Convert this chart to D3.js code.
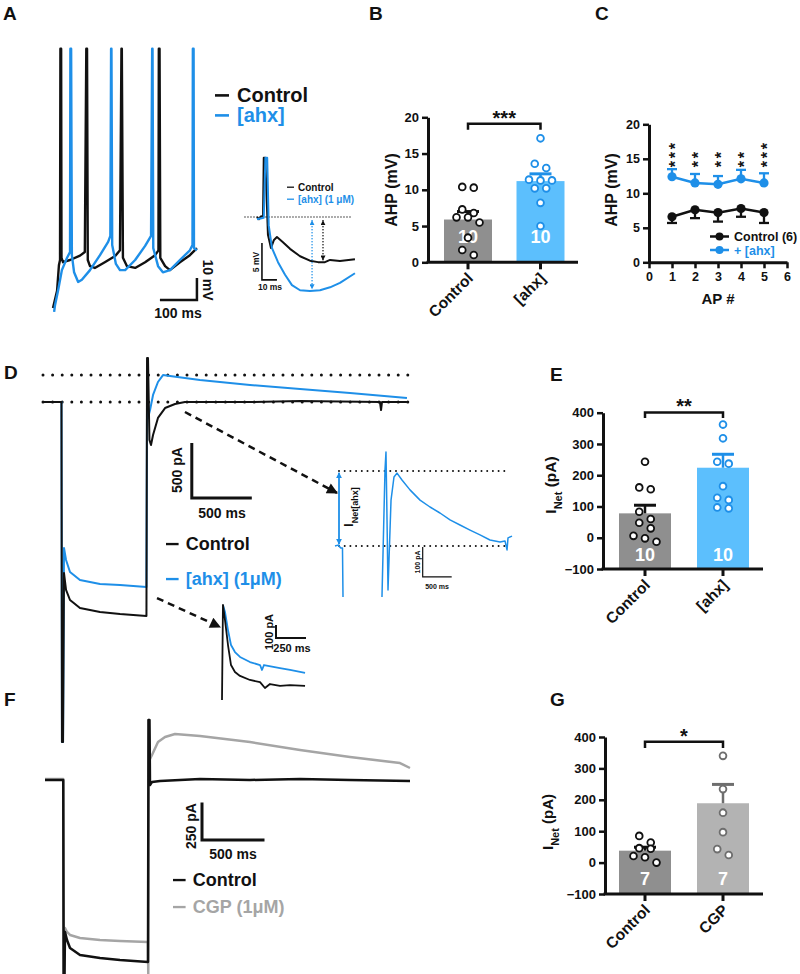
<!DOCTYPE html>
<html>
<head>
<meta charset="utf-8">
<script src="https://cdn.jsdelivr.net/npm/d3@7"></script>
<style>
body { margin: 0; background: #fff; }
svg { display: block; }
text { font-family: "Liberation Sans", Arial, Helvetica, sans-serif; font-weight: bold; }
</style>
</head>
<body>
<script>
// ---- data ----
// A: firing traces (ms, mV)
var aCtrlT = [0, 11, 16, 19, 20, 22, 23, 27, 46, 73, 86, 90, 92, 94, 100, 113, 140, 168, 181, 185, 186, 189, 200, 222, 249, 276, 285, 286, 288, 290, 303, 316, 343, 370, 389];
var aCtrlV = [-71.8, -64, -52.4, -50, 46, 46, -49, -51, -50, -48, -46.4, 46, 46, -50, -52.8, -53.6, -51, -48.2, -45.6, 46, 46, -49, -52.8, -53.6, -51, -47.8, -45.6, 46, 46, -49, -52.8, -54.6, -51, -47.8, -44.6];
var aAhxT = [3, 5.4, 14, 24, 38, 46, 47, 49, 51, 57, 68, 78, 100, 127, 149, 155, 157, 158, 160, 170, 181, 195, 222, 249, 265, 268, 269, 271, 284, 297, 316, 343, 370, 377, 378, 380, 381, 389];
var aAhxV = [-73.6, -70.6, -63.6, -54.6, -49, -46.4, 46, 46, -47.8, -55.6, -60, -59, -54.6, -47.8, -41.8, -39, 46, 46, -43.2, -51.8, -54.6, -54.6, -50, -43.6, -39, 46, 46, -44.6, -52.8, -55.6, -54.6, -50, -45.6, -43.2, 46, 46, -44.6, -45.6];
// A inset: single AP (ms, mV from baseline)
var aiCtrlT = [8, 9.3, 10.7, 12, 12.5, 13.5, 15.3, 17.3, 19.3, 21.3, 25.3, 30, 36.7, 43.3, 48.7, 53.3, 56.7, 63.3, 73.3];
var aiCtrlV = [0, -0.3, 0.1, 0, 8, 8, -2.4, -4.2, -3.1, -2.7, -3.4, -4.3, -5.3, -5.9, -6.1, -6.1, -5.8, -5.95, -5.7];
var aiAhxT = [8, 12.5, 13.6, 14.8, 15.8, 18, 22, 26.7, 31.3, 36.7, 43.3, 50, 56.7, 63.3, 73.3];
var aiAhxV = [-0.3, -0.1, 8, 8, -1.1, -4.2, -6.1, -7.8, -9.2, -9.9, -10, -9.9, -9.5, -8.9, -7.6];

// B: AHP bar chart
var bCats = ["Control", "[ahx]"];
var bMeans = [5.9, 11.2];
var bSem = [1.1, 1.0];
var bCtrlPts = [10.3, 10.4, 6.2, 6.8, 7.3, 6.2, 5.5, 3.4, 1.0, 1.7];
var bAhxPts = [17.1, 13.6, 13.0, 11.4, 11.3, 11.3, 10.2, 10.2, 8.2, 5.0];
var bN = ["10", "10"];

// C: AHP per action potential
var cAp = [1, 2, 3, 4, 5];
var cCtrlMean = [6.6, 7.6, 7.2, 7.8, 7.2];
var cCtrlSem = [0.9, 1.2, 1.3, 1.2, 1.5];
var cAhxMean = [12.4, 11.5, 11.3, 12.1, 11.5];
var cAhxSem = [1.1, 1.3, 1.2, 1.3, 1.4];
var cStars = ["***", "**", "**", "**", "***"];

// D: voltage-clamp currents (ms, pA)
var dCtrlT = [0, 154, 158, 167, 175, 192, 225, 308, 475, 642, 862, 867, 875, 887, 900, 917, 958, 1017, 1100, 1183, 1725, 2142, 2808, 2817, 2825, 3033];
var dCtrlI = [0, 0, -3091, -3091, -1555, -1709, -1800, -1873, -1909, -1927, -1945, 400, 400, -345, -391, -300, -145, -55, -18, 0, 0, 9, 0, -73, 0, 0];
var dAhxT = [0, 154, 158, 167, 175, 192, 225, 308, 475, 642, 862, 867, 875, 892, 917, 958, 1000, 1058, 1308, 1725, 2142, 2558, 3033];
var dAhxI = [0, 0, -3091, -3091, -1327, -1436, -1545, -1618, -1655, -1664, -1682, 18, -145, -73, 64, 182, 245, 236, 200, 155, 118, 82, 36];
// D right inset: net current
var diT1 = [0, 52, 103, 129, 138];
var diI1 = [0, 3, -7, -7, -170];
var diT2 = [810, 862, 879, 897, 914, 931, 966, 1017, 1069, 1155, 1293, 1466, 1638, 1810, 1983, 2155, 2328, 2500, 2672, 2845, 2931, 2966, 2983, 3052];
var diI2 = [-170, 253, 313, 87, -147, -47, 153, 230, 243, 220, 187, 153, 130, 110, 87, 70, 53, 37, 20, 13, 17, -13, 27, 33];
// D lower inset
var dlCtrlT = [0, 8, 25, 50, 75, 108, 150, 233, 317, 358, 400, 483, 567, 692];
var dlCtrlI = [0, 731, 615, 423, 269, 215, 185, 154, 138, 92, 123, 108, 115, 108];
var dlAhxT = [8, 25, 50, 75, 108, 150, 233, 317, 333, 350, 483, 567, 692];
var dlAhxI = [731, 677, 538, 423, 369, 331, 292, 269, 231, 269, 246, 231, 208];

// E: net current bar chart
var eCats = ["Control", "[ahx]"];
var eMeans = [78, 224];
var eSem = [26, 43];
var eCtrlPts = [243, 161, 155, 83, 60, 48, 30, 6, -2, -13];
var eAhxPts = [362, 318, 243, 237, 165, 128, 121, 97, 94];
var eN = ["10", "10"];

// F: CGP currents (ms, pA)
var fCtrlT = [0, 146, 149, 156, 160, 176, 200, 280, 440, 600, 824, 828, 836, 840, 856, 920, 1240, 1640, 2040, 2440, 2920];
var fCtrlI = [0, 0, -1293, -1293, -1013, -1067, -1120, -1167, -1187, -1200, -1213, 400, 400, -33, -13, -7, 7, 0, 7, 0, -7];
var fCgpT = [0, 146, 149, 156, 160, 176, 200, 280, 440, 600, 824, 826, 829, 836, 856, 904, 960, 1040, 1240, 1640, 2040, 2440, 2840, 2920];
var fCgpI = [7, 7, -1293, -1293, -987, -1013, -1033, -1053, -1067, -1073, -1080, -1293, 400, 133, 167, 253, 287, 307, 293, 253, 200, 153, 113, 80];

// G: CGP bar chart
var gCats = ["Control", "CGP"];
var gMeans = [38, 189];
var gSem = [11, 60];
var gCtrlPts = [85, 64, 46, 44, 21, 17, 0];
var gCgpPts = [340, 234, 159, 97, 43, 24];
var gN = ["7", "7"];

// ---- styles ----
var BLACK = "#111111", BLUE = "#1e8fe8", BAR_BLUE = "#5cbffd", BAR_GRAY = "#8f8f8f",
    BAR_CGP = "#b3b3b3", TRACE_GRAY = "#a5a5a5", DOT_CGP = "#6e6e6e";

var svg = d3.select("body").append("svg").attr("width", 800).attr("height", 974);
var defs = svg.append("defs");

function marker(id, color, w, h) {
    defs.append("marker").attr("id", id)
        .attr("viewBox", "0 0 10 10").attr("refX", 9).attr("refY", 5)
        .attr("markerWidth", w).attr("markerHeight", h)
        .attr("markerUnits", "userSpaceOnUse").attr("orient", "auto-start-reverse")
        .append("path").attr("d", "M0,0L10,5L0,10z").attr("fill", color);
}
marker("ahBig", BLACK, 13, 11);
marker("ahSmallK", BLACK, 5, 5);
marker("ahSmallB", BLUE, 5, 5);
marker("ahBlue", BLUE, 6, 6);

function txt(g, x, y, s, size, color, anchor, rot) {
    var t = g.append("text").attr("font-size", size).attr("fill", color || BLACK)
        .attr("text-anchor", anchor || "start").text(s);
    if (rot) t.attr("transform", "translate(" + x + "," + y + ") rotate(" + rot + ")");
    else t.attr("x", x).attr("y", y);
    return t;
}

function drawTrace(g, T, V, xs, ys, color, w) {
    g.append("path").datum(T.map(function(t, i) { return [t, V[i]]; }))
        .attr("fill", "none").attr("stroke", color).attr("stroke-width", w)
        .attr("stroke-linejoin", "round")
        .attr("d", d3.line().x(function(d) { return xs(d[0]); }).y(function(d) { return ys(d[1]); }));
}

function seg(g, x1, y1, x2, y2, color, w) {
    return g.append("line").attr("x1", x1).attr("y1", y1).attr("x2", x2).attr("y2", y2)
        .attr("stroke", color).attr("stroke-width", w);
}

function dotted(g, x1, y1, x2, y2, gap, w, color) {
    return seg(g, x1, y1, x2, y2, color || BLACK, w)
        .attr("stroke-dasharray", "0," + gap).attr("stroke-linecap", "round");
}

// L-shaped scale bar, corner at (t0, i0); the vertical arm sits at the right end if right=true
function scaleBar(g, xs, ys, t0, i0, dt, di, w, right) {
    var d = right
        ? "M" + xs(t0 - dt) + "," + ys(i0) + "H" + xs(t0) + "V" + ys(i0 + di)
        : "M" + xs(t0) + "," + ys(i0 + di) + "V" + ys(i0) + "H" + xs(t0 + dt);
    g.append("path").attr("fill", "none").attr("stroke", BLACK).attr("stroke-width", w).attr("d", d);
}

function legendRow(g, x, y, label, color, size) {
    seg(g, x, y - size * 0.33, x + size * 0.7, y - size * 0.33, color, size * 0.13);
    txt(g, x + size * 1.1, y, label, size, color);
}

// GraphPad-like spreading of points sharing a row
function spread(vals, y, r, step) {
    var idx = vals.map(function(v, i) { return i; }).sort(function(a, b) { return vals[b] - vals[a]; });
    var rows = [], cur = null;
    idx.forEach(function(i) {
        var py = y(vals[i]);
        if (cur && py - cur.y0 < 2 * r + 1) cur.items.push(i);
        else { cur = { y0: py, items: [i] }; rows.push(cur); }
    });
    var off = [];
    rows.forEach(function(rw) {
        rw.items.forEach(function(i, k) { off[i] = (k - (rw.items.length - 1) / 2) * step; });
    });
    return off;
}

// ---- panel letters ----
txt(svg, 3, 20, "A", 19);
txt(svg, 369, 20, "B", 19);
txt(svg, 595, 20, "C", 19);
txt(svg, 4, 379, "D", 19);
txt(svg, 550, 381, "E", 19);
txt(svg, 4, 706, "F", 19);
txt(svg, 550, 706, "G", 19);

// ---- A ----
var gA = svg.append("g");
var xA = d3.scaleLinear().domain([0, 100]).range([53, 90]);
var yA = d3.scaleLinear().domain([-50, -40]).range([260, 238]);
drawTrace(gA, aCtrlT, aCtrlV, xA, yA, BLACK, 2.4);
drawTrace(gA, aAhxT, aAhxV, xA, yA, BLUE, 2.4);
scaleBar(gA, xA, yA, 389, -68.2, 100, 10, 2.5, true);
txt(gA, 203, 280, "10 mV", 14, BLACK, "middle", 90);
txt(gA, 178, 318, "100 ms", 14, BLACK, "middle");
legendRow(gA, 215, 102, "Control", BLACK, 20);
legendRow(gA, 215, 122, "[ahx]", BLUE, 20);

// A inset
var xAi = d3.scaleLinear().domain([0, 10]).range([245, 260]);
var yAi = d3.scaleLinear().domain([0, 5]).range([217, 180]);
dotted(gA, xAi(0), yAi(0), xAi(72), yAi(0), 3, 1.3);
drawTrace(gA, aiCtrlT, aiCtrlV, xAi, yAi, BLACK, 2);
drawTrace(gA, aiAhxT, aiAhxV, xAi, yAi, BLUE, 2);
dotted(gA, xAi(44.7), yAi(-0.5), xAi(44.7), yAi(-9.7), 3, 1.6, BLUE)
    .attr("marker-start", "url(#ahSmallB)").attr("marker-end", "url(#ahSmallB)");
dotted(gA, xAi(52), yAi(-0.5), xAi(52), yAi(-5.8), 3, 1.6, BLACK)
    .attr("marker-start", "url(#ahSmallK)").attr("marker-end", "url(#ahSmallK)");
scaleBar(gA, xAi, yAi, 11.3, -8.5, 10, 5, 1.6);
txt(gA, 259, 262, "5 mV", 8.5, BLACK, "middle", -90);
txt(gA, 270, 290, "10 ms", 8.5, BLACK, "middle");
legendRow(gA, 287, 190.5, "Control", BLACK, 10);
legendRow(gA, 287, 202.5, "[ahx] (1 \u03bcM)", BLUE, 10);

// ---- bar chart panels ----
function barPanel(p) {
    var g = svg.append("g");
    var y = d3.scaleLinear().domain(p.domain).range(p.range);
    var x = d3.scalePoint().domain(p.cats).range(p.centers);
    var y0 = y(p.domain[0]);

    g.selectAll("rect.bar").data(p.cats).join("rect").attr("class", "bar")
        .attr("x", function(c) { return x(c) - p.barW / 2; })
        .attr("width", p.barW)
        .attr("y", function(c, i) { return y(p.means[i]); })
        .attr("height", function(c, i) { return y0 - y(p.means[i]); })
        .attr("fill", function(c, i) { return p.barColors[i]; });

    g.selectAll("text.n").data(p.cats).join("text").attr("class", "n")
        .attr("x", function(c) { return x(c); }).attr("y", p.nY)
        .attr("text-anchor", "middle").attr("font-size", 18).attr("fill", "#fff")
        .text(function(c, i) { return p.n[i]; });

    p.cats.forEach(function(c, i) {
        var cx = x(c), top = y(p.means[i] + p.sem[i]);
        seg(g, cx, y(p.means[i]), cx, top, p.dotColors[i], 2.5);
        seg(g, cx - 11, top, cx + 11, top, p.dotColors[i], 3);
        var off = spread(p.pts[i], y, 3.4, 11.5);
        g.selectAll("circle.d" + i).data(p.pts[i]).join("circle").attr("class", "d" + i)
            .attr("cx", function(v, k) { return cx + off[k]; })
            .attr("cy", function(v) { return y(v); })
            .attr("r", 3.4).attr("fill", "#fff")
            .attr("stroke", p.dotColors[i]).attr("stroke-width", 1.8);
    });

    var ya = g.append("g").attr("transform", "translate(" + p.axisX + ",0)")
        .call(d3.axisLeft(y).tickValues(p.ticks).tickFormat(d3.format("d"))
              .tickSize(6).tickSizeOuter(0).tickPadding(3));
    ya.select(".domain").attr("stroke", BLACK).attr("stroke-width", 3);
    ya.selectAll(".tick line").attr("stroke", BLACK).attr("stroke-width", 2.5);
    ya.selectAll(".tick text").attr("font-size", p.tickFont).attr("fill", BLACK)
        .attr("font-family", null);

    seg(g, p.axisX - 1.5, y0, p.axisEnd, y0, BLACK, 3);
    p.cats.forEach(function(c) {
        seg(g, x(c), y0, x(c), y0 + 7, BLACK, 3);
        txt(g, x(c) + 6, y0 + 17, c, 15.5, BLACK, "end", -45);
    });

    g.append("path").attr("fill", "none").attr("stroke", BLACK).attr("stroke-width", 2.5)
        .attr("d", "M" + x(p.cats[0]) + "," + y(p.bracket[0]) + "V" + y(p.bracket[1]) +
              "H" + x(p.cats[1]) + "V" + y(p.bracket[0]));
    txt(g, (x(p.cats[0]) + x(p.cats[1])) / 2, y(p.bracket[1]) + 1, p.stars, 20, BLACK, "middle");

    var lab = g.append("text").attr("text-anchor", "middle").attr("font-size", p.labelFont || 16)
        .attr("fill", BLACK)
        .attr("transform", "translate(" + p.labelX + "," + p.labelY + ") rotate(-90)");
    p.label.forEach(function(part) {
        var ts = lab.append("tspan").text(part[0]);
        if (part[1]) ts.attr("font-size", 11).attr("baseline-shift", "sub");
    });
    return g;
}

barPanel({
    cats: bCats, means: bMeans, sem: bSem, pts: [bCtrlPts, bAhxPts], n: bN,
    domain: [0, 20], range: [262.3, 117.3], centers: [468, 540.5], barW: 48,
    axisX: 428, axisEnd: 578, ticks: [0, 5, 10, 15, 20], tickFont: 13,
    barColors: [BAR_GRAY, BAR_BLUE], dotColors: [BLACK, BLUE], nY: 243,
    bracket: [18.3, 19.1], stars: "***",
    label: [["AHP (mV)"]], labelX: 397, labelY: 190
});

barPanel({
    cats: eCats, means: eMeans, sem: eSem, pts: [eCtrlPts, eAhxPts], n: eN,
    domain: [-100, 400], range: [569, 412.7], centers: [645, 723], barW: 52,
    axisX: 603, axisEnd: 763, ticks: [-100, 0, 100, 200, 300, 400], tickFont: 13,
    barColors: [BAR_GRAY, BAR_BLUE], dotColors: [BLACK, BLUE], nY: 561,
    bracket: [383, 401], stars: "**",
    label: [["I"], ["Net", true], [" (pA)"]], labelX: 556, labelY: 485, labelFont: 15.5
});

barPanel({
    cats: gCats, means: gMeans, sem: gSem, pts: [gCtrlPts, gCgpPts], n: gN,
    domain: [-100, 400], range: [894, 737], centers: [645, 723], barW: 52,
    axisX: 605, axisEnd: 763, ticks: [-100, 0, 100, 200, 300, 400], tickFont: 13,
    barColors: [BAR_GRAY, BAR_CGP], dotColors: [BLACK, DOT_CGP], nY: 885,
    bracket: [365, 385], stars: "*",
    label: [["I"], ["Net", true], ["  (pA)"]], labelX: 553, labelY: 822, labelFont: 15
});

// ---- C ----
var gC = svg.append("g");
var xC = d3.scaleLinear().domain([0, 6]).range([649, 787]);
var yC = d3.scaleLinear().domain([0, 20]).range([262.3, 124.3]);
var cya = gC.append("g").attr("transform", "translate(649,0)")
    .call(d3.axisLeft(yC).tickValues([0, 5, 10, 15, 20]).tickFormat(d3.format("d"))
          .tickSize(6).tickSizeOuter(0).tickPadding(3));
var cxa = gC.append("g").attr("transform", "translate(0,262.3)")
    .call(d3.axisBottom(xC).tickValues([0, 1, 2, 3, 4, 5, 6]).tickFormat(d3.format("d"))
          .tickSize(6).tickSizeOuter(0).tickPadding(4));
[cya, cxa].forEach(function(a) {
    a.select(".domain").attr("stroke", BLACK).attr("stroke-width", 3);
    a.selectAll(".tick line").attr("stroke", BLACK).attr("stroke-width", 2.5);
    a.selectAll(".tick text").attr("font-size", 12.5).attr("fill", BLACK).attr("font-family", null);
});
txt(gC, 617, 190, "AHP (mV)", 16, BLACK, "middle", -90);
txt(gC, 718, 304, "AP #", 15, BLACK, "middle");

function cSeries(means, sem, dir, color) {
    cAp.forEach(function(a, i) {
        var yt = yC(means[i] + dir * sem[i]);
        seg(gC, xC(a), yC(means[i]), xC(a), yt, color, 2.3);
        seg(gC, xC(a) - 5, yt, xC(a) + 5, yt, color, 2.3);
    });
    gC.append("path").datum(cAp).attr("fill", "none").attr("stroke", color).attr("stroke-width", 2.5)
        .attr("d", d3.line().x(function(a) { return xC(a); }).y(function(a, i) { return yC(means[i]); }));
    gC.selectAll(null).data(cAp).join("circle")
        .attr("cx", function(a) { return xC(a); })
        .attr("cy", function(a, i) { return yC(means[i]); })
        .attr("r", 4.6).attr("fill", color);
}
cSeries(cCtrlMean, cCtrlSem, -1, BLACK);
cSeries(cAhxMean, cAhxSem, 1, BLUE);
// stacked asterisks: one rotated string per AP, reading upward
cAp.forEach(function(a, i) {
    txt(gC, xC(a) + 8.8, yC(14) + 1.5, cStars[i], 16, BLACK, "start", -90)
        .attr("letter-spacing", 2.8);
});
// legend
[[BLACK, "Control (6)", 241], [BLUE, "+ [ahx]", 254.5]].forEach(function(L) {
    seg(gC, 710, L[2] - 4.5, 729, L[2] - 4.5, L[0], 2.5);
    gC.append("circle").attr("cx", 719.5).attr("cy", L[2] - 4.5).attr("r", 4).attr("fill", L[0]);
    txt(gC, 734, L[2], L[1], 12.5, L[0]);
});

// ---- D ----
var gD = svg.append("g");
var xD = d3.scaleLinear().domain([0, 500]).range([43, 103]);
var yD = d3.scaleLinear().domain([0, 500]).range([402, 347]);
dotted(gD, xD(0), yD(245), xD(3083), yD(245), 9.6, 3);
dotted(gD, xD(0), yD(0), xD(3083), yD(0), 9.6, 3);
drawTrace(gD, dAhxT, dAhxI, xD, yD, BLUE, 2);
drawTrace(gD, dCtrlT, dCtrlI, xD, yD, BLACK, 2);
scaleBar(gD, xD, yD, 1240, -873, 500, 500, 3);
txt(gD, 182, 470, "500 pA", 14, BLACK, "middle", -90);
txt(gD, 222, 518, "500 ms", 14, BLACK, "middle");
legendRow(gD, 166, 550, "Control", BLACK, 18);
legendRow(gD, 166, 585, "[ahx] (1\u03bcM)", BLUE, 18);
seg(gD, xD(1183), yD(-91), xD(2450), yD(-827), BLACK, 2.5)
    .attr("stroke-dasharray", "7,5").attr("marker-end", "url(#ahBig)");
seg(gD, xD(950), yD(-1782), xD(1475), yD(-2045), BLACK, 2.5)
    .attr("stroke-dasharray", "7,5").attr("marker-end", "url(#ahBig)");

// D right inset
var xDi = d3.scaleLinear().domain([0, 1000]).range([335, 393]);
var yDi = d3.scaleLinear().domain([0, 100]).range([546, 516]);
dotted(gD, xDi(69), yDi(250), xDi(2997), yDi(250), 5.7, 2);
dotted(gD, xDi(69), yDi(0), xDi(2997), yDi(0), 5.7, 2);
drawTrace(gD, diT1, diI1, xDi, yDi, BLUE, 1.5);
drawTrace(gD, diT2, diI2, xDi, yDi, BLUE, 1.5);
seg(gD, xDi(69), yDi(6), xDi(69), yDi(244), BLUE, 1.8)
    .attr("marker-start", "url(#ahBlue)").attr("marker-end", "url(#ahBlue)");
var inet = gD.append("text").attr("font-size", 12).attr("fill", BLACK).attr("text-anchor", "middle")
    .attr("transform", "translate(353,507) rotate(-90)");
inet.append("tspan").text("I");
inet.append("tspan").attr("font-size", 9).attr("baseline-shift", "sub").text("Net[ahx]");
scaleBar(gD, xDi, yDi, 1512, -103, 500, 100, 1.2);
txt(gD, 420, 562, "100 pA", 7, BLACK, "middle", -90);
txt(gD, 437, 589, "500 ms", 7, BLACK, "middle");

// D lower inset
var xDl = d3.scaleLinear().domain([0, 250]).range([222, 252]);
var yDl = d3.scaleLinear().domain([0, 100]).range([700, 687]);
drawTrace(gD, dlAhxT, dlAhxI, xDl, yDl, BLUE, 1.8);
drawTrace(gD, dlCtrlT, dlCtrlI, xDl, yDl, BLACK, 1.8);
scaleBar(gD, xDl, yDl, 450, 477, 250, 100, 2);
txt(gD, 273, 632, "100 pA", 11, BLACK, "middle", -90);
txt(gD, 292, 652, "250 ms", 11, BLACK, "middle");

// ---- F ----
var gF = svg.append("g");
var xF = d3.scaleLinear().domain([0, 500]).range([45, 107.5]);
var yF = d3.scaleLinear().domain([0, 250]).range([780, 742.5]);
drawTrace(gF, fCgpT, fCgpI, xF, yF, TRACE_GRAY, 2.5);
drawTrace(gF, fCtrlT, fCtrlI, xF, yF, BLACK, 2.5);
scaleBar(gF, xF, yF, 1256, -400, 500, 250, 3);
txt(gF, 196, 826, "250 pA", 14, BLACK, "middle", -90);
txt(gF, 233, 859, "500 ms", 14, BLACK, "middle");
legendRow(gF, 173, 886, "Control", BLACK, 18);
legendRow(gF, 173, 913, "CGP (1\u03bcM)", TRACE_GRAY, 18);
</script>
</body>
</html>
